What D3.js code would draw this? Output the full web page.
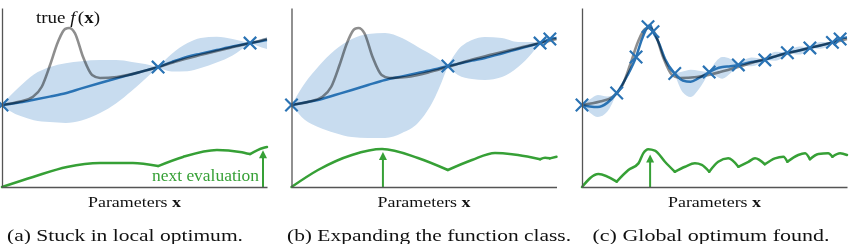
<!DOCTYPE html>
<html><head><meta charset="utf-8">
<script src="https://cdn.jsdelivr.net/npm/d3@7"></script>
<style>body{margin:0;background:#fff}svg{display:block}svg text{font-family:"Liberation Serif","DejaVu Serif",serif}</style>
</head><body>
<script>
// ---- data (x: parameter 0..100, y: objective / acquisition value 0..100) ----
const trueX = [0, 6.8, 11.7, 15, 18.1, 21.1, 23.8, 25.3, 27.5, 30.6, 34, 37, 43.4, 52.1, 58.9, 66, 74.7, 87.2, 98.5, 100];
const trueY = [45.8, 47.7, 50.4, 56, 68, 81, 88.3, 88.8, 86, 72.6, 62.6, 60.9, 61.5, 64.2, 67, 70.3, 73.7, 78.2, 82.1, 82.7];

// panel (a)
const gridA  = [0, 3, 7, 12, 18, 24, 30, 37, 43, 49, 54, 58.9, 64, 70, 75, 81, 87, 93.6, 98, 100];
const meanA  = [45.8, 46.4, 47.3, 48.7, 50.5, 52.4, 55.1, 58.1, 60.6, 63, 65, 67, 69.8, 72.8, 74.5, 76.5, 78.5, 80.4, 81.5, 82.1];
const upperA = [45.8, 50.8, 56.5, 62.8, 67, 69.2, 70.3, 70.9, 70.9, 69.9, 68.7, 67, 74.3, 80.4, 83.2, 84, 82.7, 80.4, 82.8, 83.8];
const lowerA = [45.8, 42.5, 39.6, 37.3, 36.3, 35.8, 37.2, 41.3, 46.7, 53.8, 60.3, 67, 64.5, 64.7, 66.5, 69.5, 73.5, 80.4, 78, 77.1];
const obsXA  = [0, 58.9, 93.6];
const obsYA  = [45.8, 67, 80.4];
const acqXA  = [0, 11.7, 24.5, 37, 49.4, 58.9, 68.3, 81.1, 89.8, 93.6, 98.5, 100];
const acqYA  = [0, 5.6, 11.2, 13.4, 13.4, 11.7, 16.8, 20.7, 19.6, 18.4, 21.8, 22.3];
const kinksA = [58.9, 93.6];
const nextA  = [98.5, 20.5];

// panel (b)
const gridB  = [0, 5.1, 10, 16.4, 22.8, 28.9, 35.3, 41.7, 47.7, 54.2, 59, 62.8, 68.1, 73, 79.4, 85.5, 90.8, 93.8, 95.7, 97.5, 100];
const meanB  = [45.8, 47.2, 48.6, 51.4, 54.2, 57, 59.8, 61.8, 63.7, 65.8, 67.6, 68.8, 70.6, 72.1, 74.6, 77.1, 79.2, 80.4, 81.6, 82.7, 83.2];
const upperB = [45.8, 58.1, 67, 76.5, 82.7, 85.5, 86, 83.2, 78.2, 72.6, 67.6, 76.5, 82.1, 83.8, 83.2, 81, 81, 80.4, 82.1, 82.7, 84];
const lowerB = [45.8, 37.4, 33.5, 30.2, 27.9, 27.4, 27.4, 30.2, 35.8, 50.3, 67.6, 62.6, 60.3, 59.8, 61.5, 67, 74.9, 80.4, 81.1, 82.7, 82.4];
const obsXB  = [0, 59, 93.8, 97.5];
const obsYB  = [45.8, 67.6, 80.4, 82.7];
const acqXB  = [0, 10, 22.8, 34.2, 47.7, 59, 68.1, 76.8, 85.5, 93.8, 95.7, 97.5, 100];
const acqYB  = [0, 9.5, 17.9, 21.2, 16.2, 9.5, 15.1, 19, 17.9, 15.5, 16.3, 16, 16.9];
const kinksB = [59, 93.8, 97.5];
const nextB  = [34.5, 19.6];

// panel (c)
const gridC  = [0, 3, 6, 9.5, 13.1, 17, 20.4, 22.6, 24.9, 25.8, 26.8, 29, 31.3, 35, 38, 41, 44, 48, 50.5, 53, 56, 59, 64, 69, 73, 77.5, 82, 86, 90, 94.5, 97.4, 100];
const meanC  = [45.8, 45, 44.7, 47, 52.5, 62, 72.6, 82.5, 89.6, 90.2, 86.8, 80.5, 71.5, 63.4, 59.5, 58.8, 60.8, 64.2, 66, 67, 67.5, 68.2, 69.8, 71, 73, 75, 76.3, 77.7, 79.1, 80.8, 82.7, 83.6];
const upperC = [45.8, 49, 51.4, 50.5, 52.5, 63.5, 72.6, 83.3, 89.6, 90.8, 86.8, 82, 73.5, 63.4, 64.5, 65.5, 65, 64.2, 70, 72.6, 71.5, 68.2, 72.3, 71, 75.5, 75, 78.5, 77.7, 81, 80.8, 82.7, 84.3];
const lowerC = [45.8, 41.5, 39.1, 42, 52.5, 60.5, 72.6, 81.7, 89.6, 89.6, 86.8, 79, 69.5, 63.4, 53, 50.3, 54.5, 64.2, 62, 60.5, 63.5, 68.2, 67.5, 71, 70.5, 75, 74, 77.7, 77.2, 80.8, 82.7, 82.9];
const obsXC  = [0, 13.1, 20.4, 24.9, 26.8, 35, 48, 59, 69, 77.5, 86, 94.5, 97.4];
const obsYC  = [45.8, 52.5, 72.6, 89.6, 86.8, 63.4, 64.2, 68.2, 71, 75, 77.7, 80.8, 82.7];
const acqXC  = [0, 6.2, 13.1, 17.5, 21.3, 23.1, 25, 27.5, 31.3, 35, 38.9, 42.6, 45.2, 48, 51.4, 55.2, 59, 62.8, 65.3, 69, 72.8, 76, 77.5, 81.6, 84.2, 86, 89.2, 92.9, 94.5, 97.4, 100];
const acqYC  = [0, 7.3, 3.0, 9.5, 13.2, 18.8, 21.1, 20.3, 14.1, 8.5, 11.3, 13.2, 12.3, 8.5, 14.1, 16, 11.3, 14.1, 16, 12.7, 16, 16.9, 14.1, 17.9, 18.8, 15.5, 18.4, 18.8, 16.9, 18.8, 17.9];
const kinksC = [13.1, 35, 48, 59, 69, 77.5, 86, 94.5];
const nextC  = [25.7, 18.2];

const captions = ["(a) Stuck in local optimum.", "(b) Expanding the function class.", "(c) Global optimum found."];
const xLabel = "Parameters ";

// ---- layout ----
const W = 858, H = 244, PW = 265;
const layout = [
  {left: 2,     capX: 125, capW: 236},
  {left: 291.5, capX: 429, capW: 284},
  {left: 582,   capX: 711, capW: 237}
];
const panels = [
  {grid: gridA, mean: meanA, up: upperA, lo: lowerA, ox: obsXA, oy: obsYA, ax: acqXA, ay: acqYA, kinks: kinksA, next: nextA},
  {grid: gridB, mean: meanB, up: upperB, lo: lowerB, ox: obsXB, oy: obsYB, ax: acqXB, ay: acqYB, kinks: kinksB, next: nextB},
  {grid: gridC, mean: meanC, up: upperC, lo: lowerC, ox: obsXC, oy: obsYC, ax: acqXC, ay: acqYC, kinks: kinksC, next: nextC}
];

const svg = d3.select("body").append("svg").attr("width", W).attr("height", H);
const y = d3.scaleLinear().domain([0, 100]).range([187, 8]);

function split(pts, breaks) {
  const segs = []; let cur = [];
  pts.forEach(p => {
    cur.push(p);
    if (cur.length > 1 && breaks.some(b => Math.abs(b - p.x) < 1e-9)) { segs.push(cur); cur = [p]; }
  });
  if (cur.length > 1) segs.push(cur);
  return segs;
}

const BLUE = "#2a73b4", GREY = "#8e8e8e", GREEN = "#36a036", BAND = "#c8dcef", AXIS = "#555";

panels.forEach((p, k) => {
  const L = layout[k];
  const x = d3.scaleLinear().domain([0, 100]).range([L.left, L.left + PW]);
  const g = svg.append("g");

  // uncertainty band, pinched at observations
  const bandPts = p.grid.map((gx, i) => ({x: gx, lo: p.lo[i], hi: p.up[i]}));
  const area = d3.area().x(d => x(d.x)).y0(d => y(d.lo)).y1(d => y(d.hi)).curve(d3.curveMonotoneX);
  split(bandPts, p.ox).forEach(s => g.append("path").attr("d", area(s)).attr("fill", BAND));

  const line = d3.line().x(d => x(d.x)).y(d => y(d.y)).curve(d3.curveMonotoneX);

  // posterior mean
  g.append("path").attr("d", line(p.grid.map((gx, i) => ({x: gx, y: p.mean[i]}))))
    .attr("fill", "none").attr("stroke", BLUE).attr("stroke-width", 2.5);

  // true function (blended, darkens the mean where they coincide)
  g.append("path").attr("d", line(trueX.map((tx, i) => ({x: tx, y: trueY[i]}))))
    .attr("fill", "none").attr("stroke", GREY).attr("stroke-width", 2.6)
    .style("mix-blend-mode", "multiply");

  // observations
  p.ox.forEach((ox, i) => {
    const cx = x(ox), cy = y(p.oy[i]), r = 6.2;
    g.append("path").attr("d", `M${cx - r},${cy - r}L${cx + r},${cy + r}M${cx - r},${cy + r}L${cx + r},${cy - r}`)
      .attr("stroke", BLUE).attr("stroke-width", 2.2).attr("fill", "none");
  });

  // acquisition function
  const acqPts = p.ax.map((ax, i) => ({x: ax, y: p.ay[i]}));
  split(acqPts, p.kinks).forEach(s => g.append("path").attr("d", line(s))
    .attr("fill", "none").attr("stroke", GREEN).attr("stroke-width", 2.5).attr("stroke-linecap", "round"));

  // arrow to next evaluation
  const axp = x(p.next[0]), tip = y(p.next[1]);
  g.append("line").attr("x1", axp).attr("x2", axp).attr("y1", y(0)).attr("y2", tip + 6)
    .attr("stroke", GREEN).attr("stroke-width", 2);
  g.append("path").attr("d", `M${axp},${tip}L${axp - 4},${tip + 8}L${axp + 4},${tip + 8}Z`).attr("fill", GREEN);

  // spines
  g.append("g").attr("transform", `translate(${L.left},0)`)
    .call(d3.axisLeft(y).tickValues([]).tickSizeOuter(0))
    .call(a => a.select(".domain").attr("stroke", AXIS).attr("stroke-width", 1.3));
  g.append("g").attr("transform", `translate(0,${y(0)})`)
    .call(d3.axisBottom(x).tickValues([]).tickSizeOuter(0))
    .call(a => a.select(".domain").attr("stroke", AXIS).attr("stroke-width", 1.3));

  // x label
  const t = svg.append("text").attr("x", L.left + PW / 2).attr("y", 207).attr("text-anchor", "middle")
    .attr("font-size", 15).attr("fill", "#111")
    .attr("textLength", 93).attr("lengthAdjust", "spacingAndGlyphs");
  t.append("tspan").text(xLabel);
  t.append("tspan").attr("font-weight", "bold").text("x");

  // caption
  svg.append("text").attr("x", L.capX).attr("y", 241).attr("text-anchor", "middle")
    .attr("font-size", 16.5).attr("fill", "#111")
    .attr("textLength", L.capW).attr("lengthAdjust", "spacingAndGlyphs").text(captions[k]);
});

// annotations in panel (a)
const ta = svg.append("text").attr("x", 36).attr("y", 23).attr("font-size", 16.5).attr("fill", "#111")
  .attr("textLength", 64).attr("lengthAdjust", "spacingAndGlyphs");
ta.append("tspan").text("true ");
ta.append("tspan").attr("font-style", "italic").text("f");
ta.append("tspan").attr("dx", 2).text("(");
ta.append("tspan").attr("font-weight", "bold").text("x");
ta.append("tspan").text(")");

svg.append("text").attr("x", 259).attr("y", 181).attr("text-anchor", "end")
  .attr("font-size", 16).attr("fill", GREEN)
  .attr("textLength", 107).attr("lengthAdjust", "spacingAndGlyphs").text("next evaluation");
</script>
</body></html>
